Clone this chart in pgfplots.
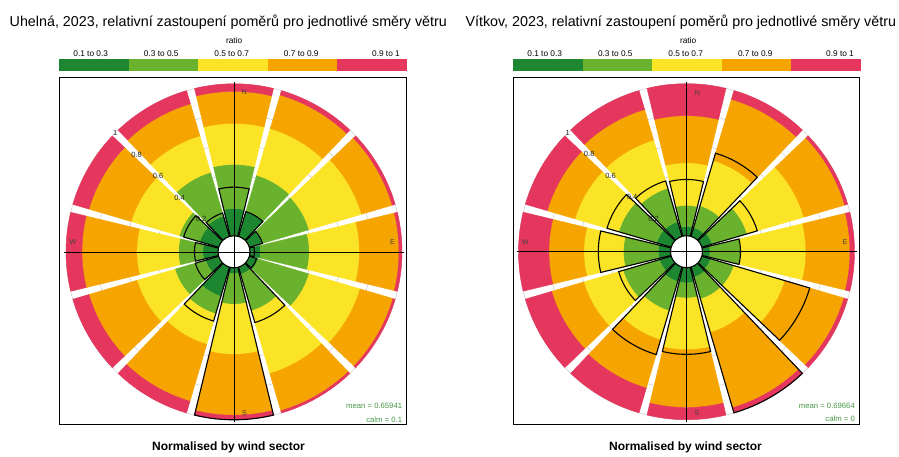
\documentclass[border=0pt]{standalone}
\usepackage{pgfplots}
\pgfplotsset{compat=1.18}
\usepackage{pgfplotstable}
\usepackage{fontspec}
\setmainfont{Liberation Sans}

\definecolor{cA}{RGB}{28,134,48}
\definecolor{cB}{RGB}{106,178,46}
\definecolor{cC}{RGB}{251,227,38}
\definecolor{cD}{RGB}{245,164,0}
\definecolor{cE}{RGB}{229,54,94}
\definecolor{statgreen}{RGB}{70,150,70}

% cumulative proportions per wind sector: bands 0.1-0.3 | 0.3-0.5 | 0.5-0.7 | 0.7-0.9 | 0.9-1
% out = relative frequency of the sector (black outline)
\pgfplotstableread{
dir b1 b2 b3 b4 out
0   0.18 0.47 0.74 0.95 0.32
30  0.17 0.42 0.74 0.97 0.17
60  0.09 0.41 0.77 0.98 0.09
90  0.07 0.39 0.72 0.98 0.03
120 0.06 0.41 0.76 0.985 0.05
150 0.05 0.30 0.73 0.985 0.38
180 0.04 0.24 0.57 0.97 1.00
210 0.20 0.32 0.53 0.92 0.37
240 0.09 0.30 0.56 0.89 0.16
270 0.10 0.26 0.535 0.895 0.155
300 0.13 0.27 0.60 0.89 0.24
330 0.14 0.44 0.69 0.91 0.16
}\uhelna

\pgfplotstableread{
dir b1 b2 b3 b4 out
0   0.06 0.20 0.48 0.79 0.37
30  0.06 0.21 0.52 0.94 0.57
60  0.07 0.31 0.70 0.98 0.38
90  0.05 0.25 0.68 0.97 0.25
120 0.06 0.22 0.57 0.975 0.74
150 0.07 0.22 0.45 0.965 1.00
180 0.10 0.20 0.54 0.92 0.57
210 0.10 0.30 0.50 0.83 0.60
240 0.08 0.33 0.60 0.82 0.36
270 0.08 0.31 0.57 0.80 0.475
300 0.10 0.36 0.66 0.85 0.44
330 0.10 0.33 0.66 0.87 0.38
}\vitkov

\newcommand\hw{13.6}
\newcommand\rz{16}
\newcommand\rs{152}

\newcommand\bandsector[3]{%
  \pgfmathsetmacro\ra{\rz+\rs*(#2)}%
  \pgfmathsetmacro\rb{\rz+\rs*(#3)}%
  \fill[#1] (\sa:\ra pt) arc[start angle=\sa,end angle=\sb,radius=\ra pt]
    -- (\sb:\rb pt) arc[start angle=\sb,end angle=\sa,radius=\rb pt] -- cycle;%
}
\newcommand\drawbands[5]{%
  \begingroup\pgfkeys{/pgf/fpu=false}%
  \pgfmathsetmacro\sa{90-(#1)-\hw}%
  \pgfmathsetmacro\sb{90-(#1)+\hw}%
  \bandsector{cA}{0}{#2}%
  \bandsector{cB}{#2}{#3}%
  \bandsector{cC}{#3}{#4}%
  \bandsector{cD}{#4}{#5}%
  \bandsector{cE}{#5}{1}%
  \endgroup}
\newcommand\drawoutline[2]{%
  \begingroup\pgfkeys{/pgf/fpu=false}%
  \pgfmathsetmacro\sa{90-(#1)-\hw}%
  \pgfmathsetmacro\sb{90-(#1)+\hw}%
  \pgfmathsetmacro\ro{\rz+\rs*(#2)}%
  \draw[black, line width=1.1pt, line join=miter]
    (\sa:\rz pt) arc[start angle=\sa,end angle=\sb,radius=\rz pt]
    -- (\sb:\ro pt) arc[start angle=\sb,end angle=\sa,radius=\ro pt] -- cycle;%
  \endgroup}
\newcommand\drawgrid{%
  \begingroup\pgfkeys{/pgf/fpu=false}%
  \foreach \v in {0.2,0.4,0.6,0.8,1}{%
    \pgfmathsetmacro\rr{\rz+\rs*\v}%
    \draw[black!22, line width=0.5pt] (0pt,0pt) circle[radius=\rr pt];}%
  \endgroup}
\newcommand\drawgridlabels{%
  \begingroup\pgfkeys{/pgf/fpu=false}%
  \foreach \v in {0.2,0.4,0.6,0.8,1}{%
    \pgfmathsetmacro\rr{\rz+\rs*\v}%
    \node[inner sep=0pt, font=\fontsize{7.5}{8}\selectfont, text=black!85] at (135:\rr pt) {\v};}%
  \endgroup}

\pgfplotsset{
  rosepanel/.style={
    x=1pt, y=1pt,
    xtick=\empty, ytick=\empty,
    axis line style={black, line width=0.9pt},
    clip=false, clip marker paths=true, anchor=origin,
  },
  markbase/.style={scatter, only marks, mark=*, mark size=0pt,
    point meta min=-1, point meta max=1,
    scatter/@post marker code/.code={}},
  bandmark/.style n args={5}{markbase,
    scatter/@pre marker code/.code={\drawbands{#1}{#2}{#3}{#4}{#5}}},
  outlinemark/.style n args={2}{markbase,
    scatter/@pre marker code/.code={\drawoutline{#1}{#2}}},
  gridmark/.style={markbase, scatter/@pre marker code/.code={\drawgrid}},
  labelmark/.style={markbase, scatter/@pre marker code/.code={\drawgridlabels}},
}

\newcommand\getrow[2]{% table, row
  \pgfplotstablegetelem{#2}{dir}\of{#1}\edef\tdir{\pgfplotsretval}%
  \pgfplotstablegetelem{#2}{b1}\of{#1}\edef\tbone{\pgfplotsretval}%
  \pgfplotstablegetelem{#2}{b2}\of{#1}\edef\tbtwo{\pgfplotsretval}%
  \pgfplotstablegetelem{#2}{b3}\of{#1}\edef\tbthree{\pgfplotsretval}%
  \pgfplotstablegetelem{#2}{b4}\of{#1}\edef\tbfour{\pgfplotsretval}%
  \pgfplotstablegetelem{#2}{out}\of{#1}\edef\tout{\pgfplotsretval}%
}
\newcommand\rosebands[1]{%
  \pgfplotsinvokeforeach{0,...,11}{%
    \getrow{#1}{##1}%
    \edef\tmp{\noexpand\addplot[bandmark={\tdir}{\tbone}{\tbtwo}{\tbthree}{\tbfour}] coordinates {(0,0)};}%
    \tmp
  }%
}
\newcommand\roseoutlines[1]{%
  \pgfplotsinvokeforeach{0,...,11}{%
    \getrow{#1}{##1}%
    \edef\tmp{\noexpand\addplot[outlinemark={\tdir}{\tout}] coordinates {(0,0)};}%
    \tmp
  }%
}

\newcommand\colorkey[1]{% #1 = left x of bar
  \fill[cA] (#1pt,386pt) rectangle ++(69.5pt,11.7pt);
  \fill[cB] (#1pt+69.5pt,386pt) rectangle ++(69.5pt,11.7pt);
  \fill[cC] (#1pt+139pt,386pt) rectangle ++(69.5pt,11.7pt);
  \fill[cD] (#1pt+208.5pt,386pt) rectangle ++(69.5pt,11.7pt);
  \fill[cE] (#1pt+278pt,386pt) rectangle ++(69.5pt,11.7pt);
  \begin{scope}[every node/.style={anchor=base, inner sep=0pt, font=\fontsize{8.3}{10}\selectfont}]
  \node at (#1pt+31.4pt,400.5pt) {0.1 to 0.3};
  \node at (#1pt+102pt,400.5pt) {0.3 to 0.5};
  \node at (#1pt+172.4pt,400.5pt) {0.5 to 0.7};
  \node at (#1pt+242pt,400.5pt) {0.7 to 0.9};
  \node at (#1pt+326.7pt,400.5pt) {0.9 to 1};
  \node at (#1pt+174.8pt,413.7pt) {ratio};
  \end{scope}
}

\begin{document}
\begin{tikzpicture}
\useasboundingbox (0,0) rectangle (899pt,457pt);

% ---------- Uhelna ----------
\begin{axis}[rosepanel, at={(234pt,205.2pt)},
  xmin=-174.7, xmax=172.5, ymin=-172.5, ymax=174.5]
  \addplot[gridmark] coordinates {(0,0)};
  \rosebands{\uhelna}
  \addplot[labelmark] coordinates {(0,0)};
  \roseoutlines{\uhelna}
  \addplot[black, line width=0.5pt] coordinates {(-170,0) (170,0)};
  \addplot[black, line width=0.5pt] coordinates {(0,-170) (0,170)};
  \node[font=\fontsize{7}{8}\selectfont, text=black!75] at (axis cs:10.3,159.3) {N};
  \node[font=\fontsize{7}{8}\selectfont, text=black!75] at (axis cs:158.5,10) {E};
  \node[font=\fontsize{7}{8}\selectfont, text=black!75] at (axis cs:-161,10) {W};
  \node[font=\fontsize{7}{8}\selectfont, text=black!75] at (axis cs:10.5,-161) {S};
  \node[anchor=east, inner sep=0pt, font=\fontsize{7.7}{9}\selectfont, text=statgreen] at (axis cs:168.3,-153.9) {mean = 0.65941};
  \node[anchor=east, inner sep=0pt, font=\fontsize{7.7}{9}\selectfont, text=statgreen] at (axis cs:168.3,-167.5) {calm = 0.1};
\end{axis}

% ---------- Vitkov ----------
\begin{axis}[rosepanel, at={(686.5pt,205.3pt)},
  xmin=-173.2, xmax=173.2, ymin=-172.6, ymax=174.4]
  \addplot[gridmark] coordinates {(0,0)};
  \rosebands{\vitkov}
  \addplot[labelmark] coordinates {(0,0)};
  \roseoutlines{\vitkov}
  \addplot[black, line width=0.5pt] coordinates {(-170,0) (170,0)};
  \addplot[black, line width=0.5pt] coordinates {(0,-170) (0,170)};
  \node[font=\fontsize{7}{8}\selectfont, text=black!75] at (axis cs:10.8,158.9) {N};
  \node[font=\fontsize{7}{8}\selectfont, text=black!75] at (axis cs:158.5,10) {E};
  \node[font=\fontsize{7}{8}\selectfont, text=black!75] at (axis cs:-161,10) {W};
  \node[font=\fontsize{7}{8}\selectfont, text=black!75] at (axis cs:10.5,-161) {S};
  \node[anchor=east, inner sep=0pt, font=\fontsize{7.7}{9}\selectfont, text=statgreen] at (axis cs:168.5,-153.9) {mean = 0.69664};
  \node[anchor=east, inner sep=0pt, font=\fontsize{7.7}{9}\selectfont, text=statgreen] at (axis cs:168.5,-167.5) {calm = 0};
\end{axis}

% titles, keys, captions
\node[anchor=base, inner sep=0pt, font=\fontsize{14.3}{16}\selectfont] at (228.3pt,430.5pt)
  {Uhelná, 2023, relativní zastoupení poměrů pro jednotlivé směry větru};
\node[anchor=base, inner sep=0pt, font=\fontsize{14.3}{16}\selectfont] at (680.8pt,430.5pt)
  {Vítkov, 2023, relativní zastoupení poměrů pro jednotlivé směry větru};
\colorkey{59.3}
\colorkey{513.3}
\node[anchor=base, inner sep=0pt, font=\bfseries\fontsize{12}{14}\selectfont] at (228.5pt,6pt) {Normalised by wind sector};
\node[anchor=base, inner sep=0pt, font=\bfseries\fontsize{12}{14}\selectfont] at (685.5pt,6pt) {Normalised by wind sector};
\end{tikzpicture}
\end{document}
